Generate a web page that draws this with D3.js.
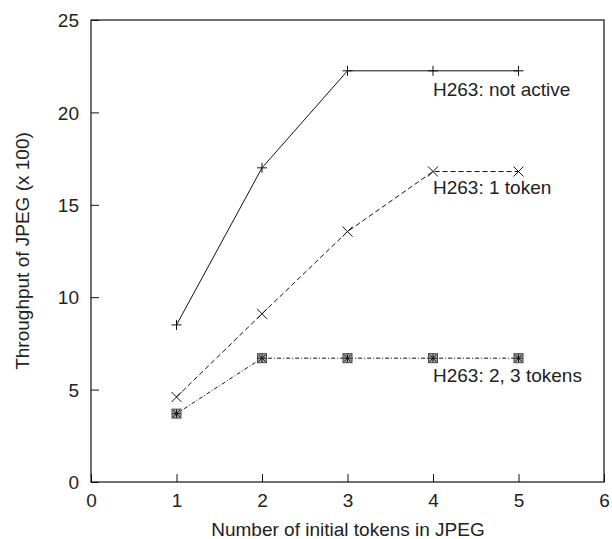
<!DOCTYPE html>
<html>
<head>
<meta charset="utf-8">
<script src="https://cdn.jsdelivr.net/npm/d3@7"></script>
<style>
  body { margin: 0; background: #fff; }
  text { font-family: "Liberation Sans", Arial, sans-serif; fill: #222; }
</style>
</head>
<body>
<svg id="chart" width="612" height="539"></svg>
<script>
// data
let tokens = [1, 2, 3, 4, 5];
let notActive = [8.5, 17.0, 22.25, 22.25, 22.25];
let oneToken = [4.6, 9.1, 13.55, 16.8, 16.8];
let twoThree = [3.7, 6.7, 6.7, 6.7, 6.7];
let xTicks = [0, 1, 2, 3, 4, 5, 6];
let yTicks = [0, 5, 10, 15, 20, 25];
let labels = ["H263: not active", "H263: 1 token", "H263: 2, 3 tokens"];

let svg = d3.select("#chart");
let pLeft = 91, pRight = 604, pTop = 20, pBottom = 482;
let fs = "19px";

let x = d3.scaleLinear().domain([0, 6]).range([pLeft, pRight]);
let y = d3.scaleLinear().domain([0, 25]).range([pBottom, pTop]);

// frame
svg.append("rect")
    .attr("x", pLeft).attr("y", pTop)
    .attr("width", pRight - pLeft).attr("height", pBottom - pTop)
    .attr("fill", "none").attr("stroke", "#111").attr("stroke-width", 1.2);

// ticks, inward
let xAxis = svg.append("g").attr("transform", `translate(0,${pBottom})`)
    .call(d3.axisBottom(x).tickValues(xTicks).tickSize(-8).tickPadding(12).tickFormat(d3.format("d")));
let yAxis = svg.append("g").attr("transform", `translate(${pLeft},0)`)
    .call(d3.axisLeft(y).tickValues(yTicks).tickSize(-8).tickPadding(12).tickFormat(d3.format("d")));
[xAxis, yAxis].forEach(a => {
  a.select(".domain").remove();
  a.selectAll(".tick line").attr("stroke", "#111");
  a.selectAll("text").style("font-size", fs).attr("fill", "#222")
      .style("font-family", "'Liberation Sans', Arial, sans-serif");
});
yAxis.selectAll("text").attr("dy", "0.35em");

// axis titles
svg.append("text").attr("x", 348).attr("y", 536)
    .attr("text-anchor", "middle").style("font-size", fs)
    .text("Number of initial tokens in JPEG");
svg.append("text").attr("transform", `translate(29,${(pTop + pBottom) / 2}) rotate(-90)`)
    .attr("text-anchor", "middle").style("font-size", fs)
    .text("Throughput of JPEG (x 100)");

let line = d3.line().x((d, i) => x(tokens[i])).y(d => y(d));

function series(vals, dash, marker) {
  svg.append("path").datum(vals)
      .attr("d", line)
      .attr("fill", "none").attr("stroke", "#111").attr("stroke-width", 1)
      .attr("stroke-dasharray", dash);
  let g = svg.append("g").selectAll("g").data(vals).join("g")
      .attr("transform", (d, i) => `translate(${x(tokens[i])},${y(d)})`);
  marker(g);
}

function plus(g) {
  g.append("path").attr("d", "M-5,0H5M0,-5V5").attr("stroke", "#111").attr("stroke-width", 1);
}
function cross(g) {
  g.append("path").attr("d", "M-5,-5L5,5M-5,5L5,-5").attr("stroke", "#111").attr("stroke-width", 1);
}
function boxStar(g) {
  g.append("rect").attr("x", -4.5).attr("y", -4.5).attr("width", 9).attr("height", 9)
      .attr("fill", "#aaa").attr("stroke", "#444").attr("stroke-width", 1);
  g.append("path").attr("d", "M-4,0H4M0,-4V4M-3.5,-3.5L3.5,3.5M-3.5,3.5L3.5,-3.5")
      .attr("stroke", "#111").attr("stroke-width", 1);
}

series(notActive, null, plus);
series(oneToken, "5,3", cross);
series(twoThree, "4,2,1,2", boxStar);

// curve labels
let labelY = [96, 194, 382];
svg.selectAll(".lbl").data(labels).join("text")
    .attr("class", "lbl")
    .attr("x", 433).attr("y", (d, i) => labelY[i])
    .style("font-size", fs)
    .text(d => d);
</script>
</body>
</html>
